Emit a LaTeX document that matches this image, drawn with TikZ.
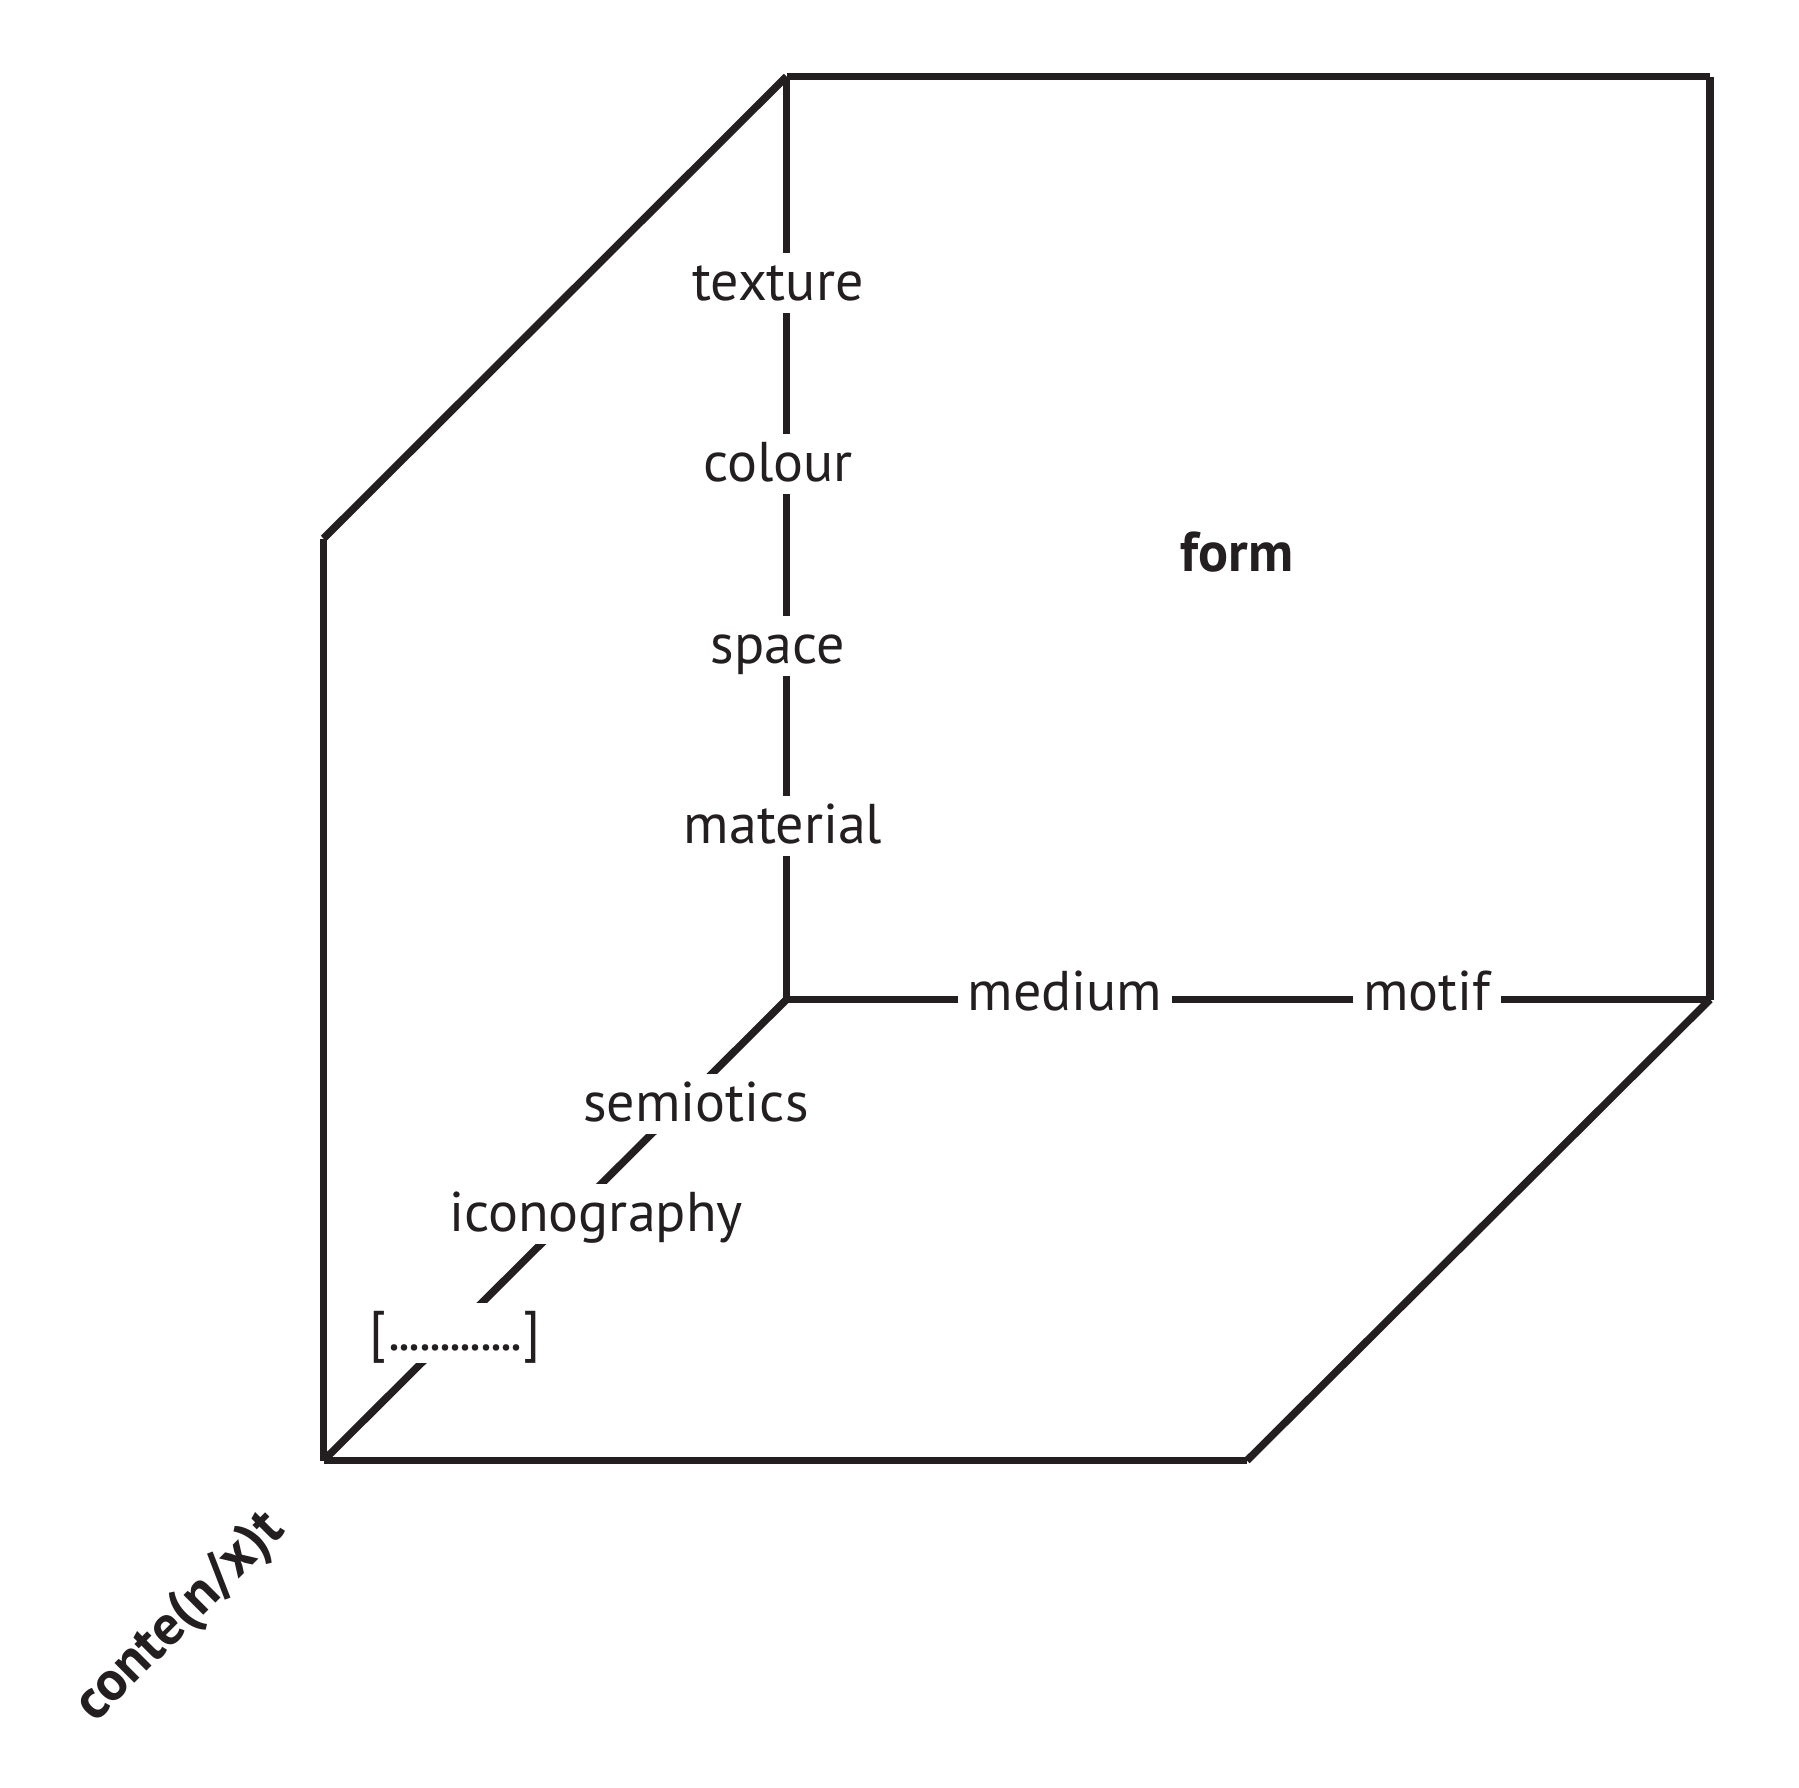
\documentclass[tikz,border=0pt]{standalone}
\usepackage{fontspec}
\setmainfont{PT Sans}
\definecolor{ink}{RGB}{35,31,32}
\newcommand{\tightdot}{.\kern-1.8pt}
\begin{document}
\begin{tikzpicture}[x=1pt,y=-1pt,
  edge/.style={draw=ink,line width=7.5pt,line cap=square},
  diag/.style={draw=ink,line width=7.5pt,line cap=butt},
  lbl/.style={fill=white,text=ink,anchor=base,inner xsep=10pt,inner ysep=5pt,
    text height=42pt,text depth=8pt,font=\fontsize{56}{60}\selectfont},
  boldlbl/.style={text=ink,anchor=base,inner sep=0pt,font=\fontsize{56}{60}\selectfont\bfseries}]
\useasboundingbox (0,0) rectangle (1799,1788);
\coordinate (A) at (786.5,76.5);
\coordinate (B) at (1710,76.5);
\coordinate (C) at (1710,999.5);
\coordinate (D) at (786.5,999.5);
\coordinate (E) at (323.5,538.5);
\coordinate (F) at (323.5,1460.5);
\coordinate (G) at (1247,1460.5);
\draw[edge] (A) -- (B);
\draw[edge] (B) -- (C);
\draw[edge] (A) -- (D);
\draw[edge] (D) -- (C);
\draw[edge] (E) -- (F);
\draw[edge] (F) -- (G);
\draw[diag] (E) -- (A);
\draw[diag] (G) -- (C);
\draw[diag] (D) -- (F);
\node[lbl] (texture) at (778,300) {texture};
\node[lbl] (colour) at (778,481) {colour};
\node[lbl] (space) at (778,663) {space};
\node[lbl] (material) at (783,843) {material};
\node[lbl] (medium) at (1065,1010) {medium};
\node[lbl] (motif) at (1427,1010) {motif};
\node[lbl] (semiotics) at (696,1121) {semiotics};
\node[lbl] (iconography) at (596,1231) {iconography};
\node[lbl] (etc) at (455,1350) {[\kern2pt\tightdot\tightdot\tightdot\tightdot\tightdot\tightdot\tightdot\tightdot\tightdot\tightdot\tightdot\tightdot.\kern1pt]};
\node[boldlbl] (form) at (1237,571) {form};
\node[text=ink,inner sep=0pt,rotate=45,font=\fontsize{56}{60}\selectfont\bfseries] (context) at (181,1618) {conte(n/x)t};
\end{tikzpicture}
\end{document}
